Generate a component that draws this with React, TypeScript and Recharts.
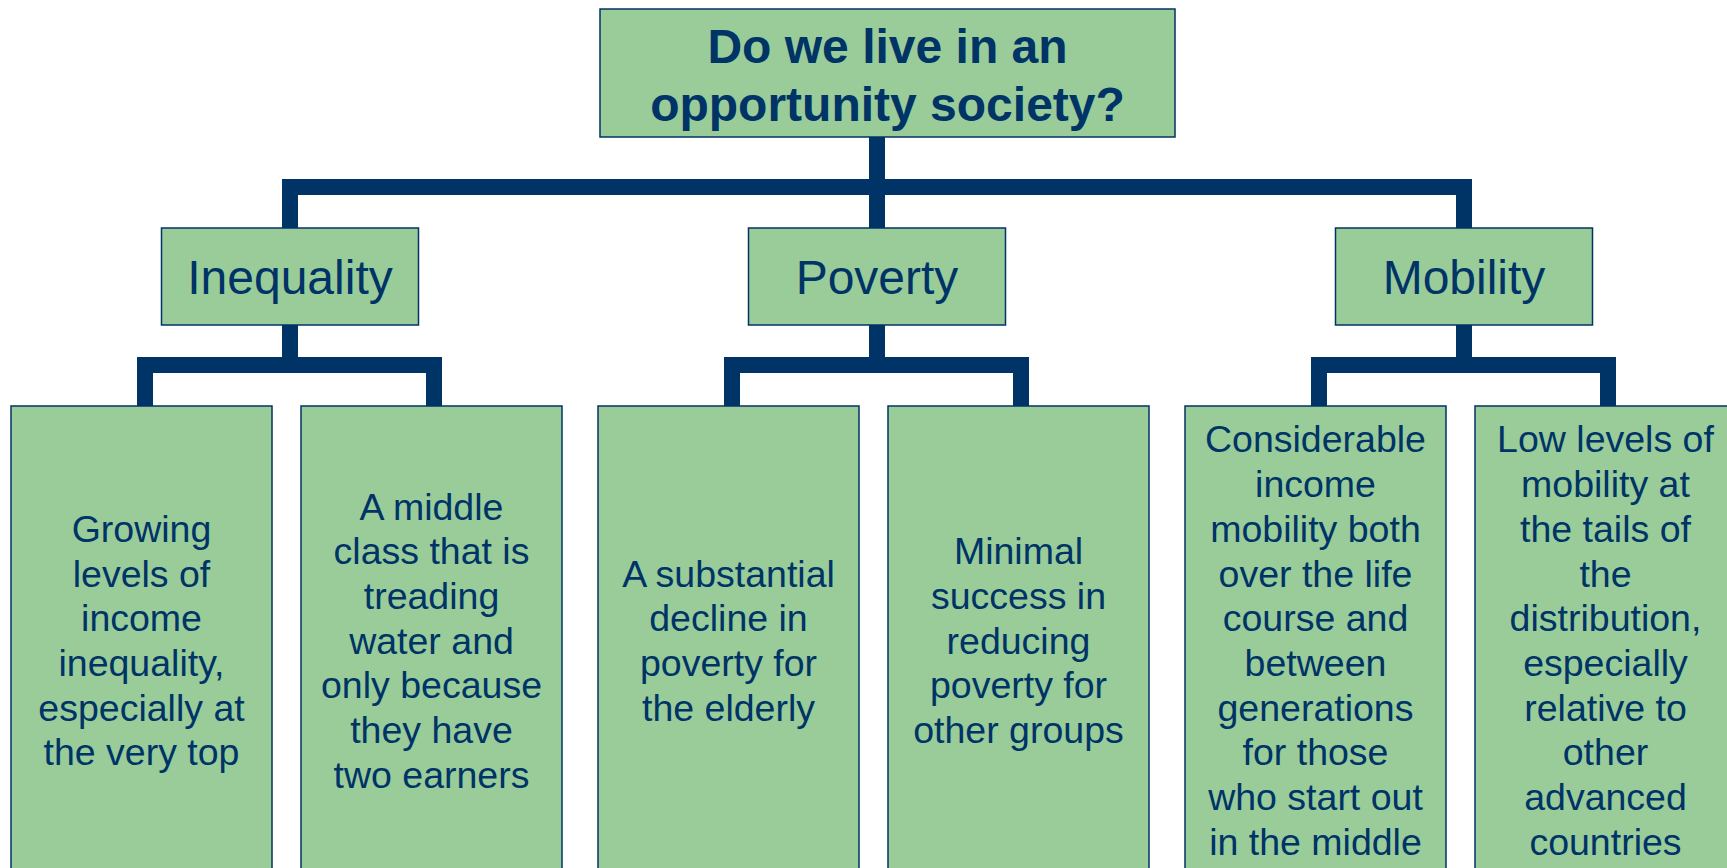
import { ScatterChart, Scatter, XAxis, YAxis, ReferenceLine } from 'recharts'

// question at the top of the tree
const rootLabel = 'Do we live in an\nopportunity society?'

// the three branches
const categories = ['Inequality', 'Poverty', 'Mobility']

// findings under each branch (line breaks as in the slide)
const inequalityFindings = [
  'Growing\nlevels of\nincome\ninequality,\nespecially at\nthe very top',
  'A middle\nclass that is\ntreading\nwater and\nonly because\nthey have\ntwo earners',
]
const povertyFindings = [
  'A substantial\ndecline in\npoverty for\nthe elderly',
  'Minimal\nsuccess in\nreducing\npoverty for\nother groups',
]
const mobilityFindings = [
  'Considerable\nincome\nmobility both\nover the life\ncourse and\nbetween\ngenerations\nfor those\nwho start out\nin the middle',
  'Low levels of\nmobility at\nthe tails of\nthe\ndistribution,\nespecially\nrelative to\nother\nadvanced\ncountries',
]
const findingsByCategory = [inequalityFindings, povertyFindings, mobilityFindings]

// layout (chart units == pixels)
const W = 1727
const H = 868
const CAT_X0 = 290
const CAT_STEP = 587
const ROOT_DX = 10.5
const LEAF_DX = [-148.5, 141.5]
const STEM_DX = [-145, 144]
const BAR1_Y = 187
const BAR2_Y = 365
const LINE_W = 16
const NAVY = '#003366'
const GREEN = '#99CC99'
const FONT = '"Liberation Sans", Arial, sans-serif'

const levelStyle: Record<number, { top: number; bottom: number; width: number; fontSize: number; lineHeight: number; bold: boolean; dy: number }> = {
  0: { top: 9, bottom: 137, width: 575, fontSize: 48, lineHeight: 58, bold: true, dy: 2 },
  1: { top: 228, bottom: 325, width: 257, fontSize: 48, lineHeight: 52, bold: false, dy: 1 },
  2: { top: 406, bottom: 875, width: 261, fontSize: 37.5, lineHeight: 44.7, bold: false, dy: 0 },
}

type Node = { x: number; y: number; label: string; level: number }

const catX = (i: number) => CAT_X0 + i * CAT_STEP
const midY = (level: number) => (levelStyle[level].top + levelStyle[level].bottom) / 2

const nodes: Node[] = [
  { x: catX(1) + ROOT_DX, y: midY(0), label: rootLabel, level: 0 },
  ...categories.map((c, i) => ({ x: catX(i), y: midY(1), label: c, level: 1 })),
  ...findingsByCategory.flatMap((list, i) =>
    list.map((f, j) => ({ x: catX(i) + LEAF_DX[j], y: midY(2), label: f, level: 2 }))
  ),
]

type Seg = [{ x: number; y: number }, { x: number; y: number }]
const half = LINE_W / 2
const links: Seg[] = [
  // root stem and top bar
  [{ x: catX(1), y: levelStyle[0].bottom }, { x: catX(1), y: BAR1_Y }],
  [{ x: catX(0) - half, y: BAR1_Y }, { x: catX(categories.length - 1) + half, y: BAR1_Y }],
  ...categories.flatMap((_, i) => {
    const segs: Seg[] = [
      [{ x: catX(i), y: BAR1_Y - half }, { x: catX(i), y: levelStyle[1].top }],
      [{ x: catX(i), y: levelStyle[1].bottom }, { x: catX(i), y: BAR2_Y }],
      [{ x: catX(i) + STEM_DX[0] - half, y: BAR2_Y }, { x: catX(i) + STEM_DX[1] + half, y: BAR2_Y }],
    ]
    findingsByCategory[i].forEach((_, j) => {
      segs.push([{ x: catX(i) + STEM_DX[j], y: BAR2_Y - half }, { x: catX(i) + STEM_DX[j], y: levelStyle[2].top }])
    })
    return segs
  }),
]

function NodeBox(props: { cx?: number; cy?: number; payload?: Node }) {
  const { cx = 0, cy = 0, payload } = props
  if (!payload) return null
  const s = levelStyle[payload.level]
  const h = s.bottom - s.top
  const lines = payload.label.split('\n')
  const first = cy + s.dy - ((lines.length - 1) / 2) * s.lineHeight
  return (
    <g>
      <rect x={cx - s.width / 2} y={cy - h / 2} width={s.width} height={h} fill={GREEN} stroke={NAVY} strokeWidth={1.5} />
      {lines.map((ln, k) => (
        <text
          key={k}
          x={cx}
          y={first + k * s.lineHeight + s.fontSize * 0.35}
          textAnchor="middle"
          fill={NAVY}
          fontFamily={FONT}
          fontSize={s.fontSize}
          fontWeight={s.bold ? 'bold' : 'normal'}
        >
          {ln}
        </text>
      ))}
    </g>
  )
}

export default function App() {
  return (
    <div style={{ position: 'absolute', left: 0, top: 0, width: W, height: H, background: '#fff' }}>
      <ScatterChart width={W} height={H} margin={{ top: 0, right: 0, bottom: 0, left: 0 }}>
        <XAxis dataKey="x" type="number" domain={[0, W]} hide />
        <YAxis dataKey="y" type="number" domain={[0, H]} reversed hide />
        {links.map((seg, i) => (
          <ReferenceLine key={i} segment={seg} stroke={NAVY} strokeWidth={LINE_W} ifOverflow="visible" />
        ))}
        <Scatter data={nodes} shape={<NodeBox />} isAnimationActive={false} />
      </ScatterChart>
    </div>
  )
}
